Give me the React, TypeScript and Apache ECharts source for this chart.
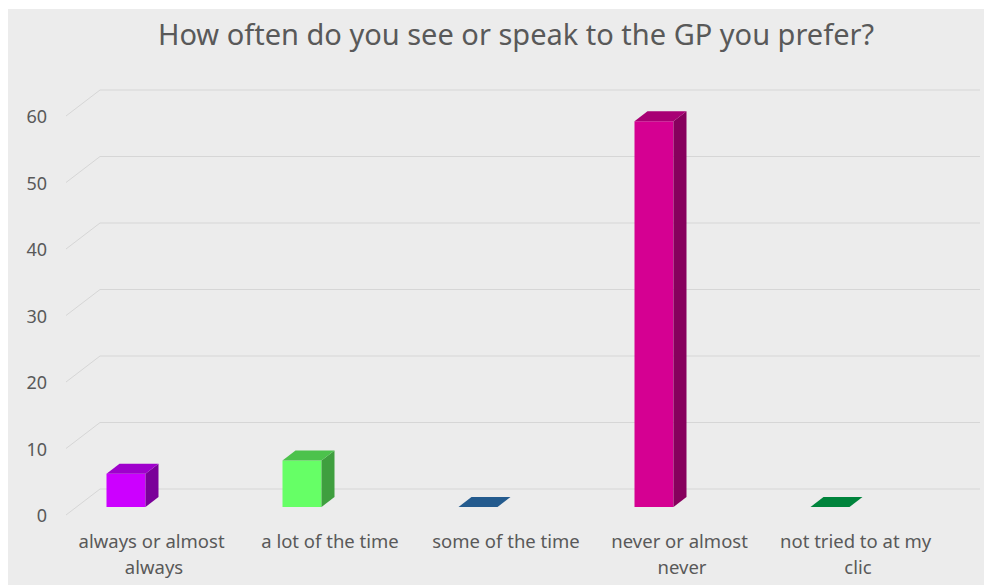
import React, { useEffect, useRef } from "react";
import * as echarts from "echarts";

const titleText = "How often do you see or speak to the GP you prefer?";
const categories = [
  "always or almost always",
  "a lot of the time",
  "some of the time",
  "never or almost never",
  "not tried to at my clic",
];
const values = [5, 7, 0, 58, 0];
const yTicks = [0, 10, 20, 30, 40, 50, 60];
const frontColors = ["#cc00ff", "#66ff66", "#245b8e", "#d50092", "#00843c"];
const topColors = ["#9f00cc", "#4cc24c", "#245b8e", "#a80074", "#00843c"];
const sideColors = ["#7a0099", "#3f9f3f", "#1a4470", "#87005d", "#006830"];

export default function App() {
  const ref = useRef<HTMLDivElement>(null);
  useEffect(() => {
    document.documentElement.style.overflow = "hidden";
    const chart = echarts.init(ref.current!, undefined, { renderer: "svg" });
    const font = "Noto Sans";
    const depthX = 13;
    const depthY = -10;
    const barW = 39;
    const barShift = -28;
    const barDrop = -8;
    const wallX = 34;
    const wallY = -26;
    chart.setOption({
      animation: false,
      backgroundColor: "#ececec",
      title: {
        text: titleText,
        left: 503,
        top: 5,
        textAlign: "center",
        textStyle: { fontFamily: font, fontSize: 29, fontWeight: "normal", color: "#595959" },
      },
      grid: { left: 58, right: 38, top: 107, bottom: 70 },
      xAxis: {
        type: "category",
        data: categories,
        axisLine: { show: false },
        axisTick: { show: false },
        axisLabel: {
          interval: 0,
          margin: 12,
          width: 170,
          overflow: "break",
          lineHeight: 26,
          fontFamily: font,
          fontSize: 18.5,
          color: "#595959",
        },
      },
      yAxis: {
        type: "value",
        min: 0,
        max: 60,
        interval: 10,
        axisLine: { show: false },
        axisTick: { show: false },
        splitLine: { show: false },
        axisLabel: { margin: 19, fontFamily: font, fontSize: 18, color: "#595959" },
      },
      series: [
        {
          type: "custom",
          clip: false,
          silent: true,
          data: yTicks.map((t) => [0, t]),
          renderItem: (params: any, api: any) => {
            const cs = params.coordSys;
            const p = api.coord([0, api.value(1)]);
            const fy = p[1];
            const x0 = cs.x;
            const style = { stroke: "#d6d6d6", lineWidth: 1, fill: null };
            return {
              type: "group",
              children: [
                { type: "line", shape: { x1: x0, y1: fy, x2: x0 + wallX, y2: fy + wallY }, style },
                {
                  type: "line",
                  shape: { x1: x0 + wallX, y1: fy + wallY, x2: x0 + cs.width + wallX, y2: fy + wallY },
                  style,
                },
              ],
            };
          },
        },
        {
          type: "custom",
          clip: false,
          data: values.map((v, i) => [i, v]),
          renderItem: (params: any, api: any) => {
            const i = api.value(0);
            const base = api.coord([i, 0]);
            const top = api.coord([i, api.value(1)]);
            const x0 = base[0] + barShift - barW / 2;
            const x1 = x0 + barW;
            const yb = base[1] + barDrop;
            const yt = top[1] + barDrop;
            const children: any[] = [];
            if (yb - yt > 0.5) {
              children.push({
                type: "polygon",
                shape: { points: [[x0, yt], [x1, yt], [x1, yb], [x0, yb]] },
                style: { fill: frontColors[i] },
              });
              children.push({
                type: "polygon",
                shape: { points: [[x1, yt], [x1 + depthX, yt + depthY], [x1 + depthX, yb + depthY], [x1, yb]] },
                style: { fill: sideColors[i] },
              });
            }
            children.push({
              type: "polygon",
              shape: { points: [[x0, yt], [x0 + depthX, yt + depthY], [x1 + depthX, yt + depthY], [x1, yt]] },
              style: { fill: topColors[i] },
            });
            return { type: "group", children };
          },
        },
      ],
    });
    return () => chart.dispose();
  }, []);
  return (
    <div
      ref={ref}
      style={{ position: "fixed", left: 8, top: 9, width: 976, height: 576 }}
    />
  );
}
